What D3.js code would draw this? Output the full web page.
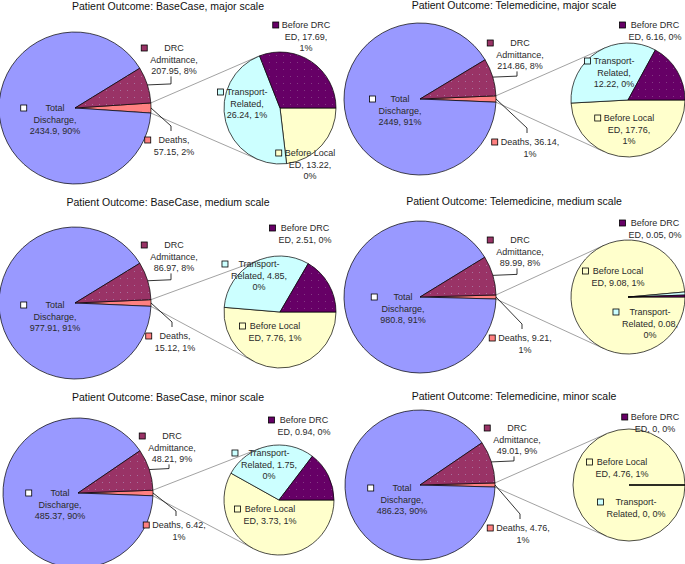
<!DOCTYPE html>
<html><head><meta charset="utf-8">
<script src="https://cdn.jsdelivr.net/npm/d3@7"></script>
<style>
html,body{margin:0;padding:0;background:#fff;}
svg{display:block;font-family:"Liberation Sans",Arial,sans-serif;}
</style></head><body>
<svg id="chart" width="685" height="564"></svg>
<script>
// ---------- DATA ----------
const chartTitles = [
  "Patient Outcome: BaseCase, major scale",
  "Patient Outcome: Telemedicine, major scale",
  "Patient Outcome: BaseCase, medium scale",
  "Patient Outcome: Telemedicine, medium scale",
  "Patient Outcome: BaseCase, minor scale",
  "Patient Outcome: Telemedicine, minor scale"
];
const mainCategories = ["Total Discharge", "DRC Admittance", "Deaths"];
const subCategories = ["Before DRC ED", "Transport-Related", "Before Local ED"];

const totalDischarge   = [2434.9, 2449, 977.91, 980.8, 485.37, 486.23];
const drcAdmittance    = [207.95, 214.86, 86.97, 89.99, 48.21, 49.01];
const deaths           = [57.15, 36.14, 15.12, 9.21, 6.42, 4.76];
const beforeDRC        = [17.69, 6.16, 2.51, 0.05, 0.94, 0];
const transportRelated = [26.24, 12.22, 4.85, 0.08, 1.75, 0];
const beforeLocal      = [13.22, 17.76, 7.76, 9.08, 3.73, 4.76];

const totalPct     = ["90%", "91%", "91%", "91%", "90%", "90%"];
const drcPct       = ["8%", "8%", "8%", "8%", "9%", "9%"];
const deathsPct    = ["2%", "1%", "1%", "1%", "1%", "1%"];
const beforeDRCPct = ["1%", "0%", "0%", "0%", "0%", "0%"];
const transportPct = ["1%", "0%", "0%", "0%", "0%", "0%"];
const beforeLocalPct = ["0%", "1%", "1%", "1%", "1%", "1%"];

// ---------- STYLE / LAYOUT ----------
const mainColors = {"Total Discharge": "#9999FF", "DRC Admittance": "#993366", "Deaths": "#FF8080"};
const subColors  = {"Before DRC ED": "#660066", "Transport-Related": "#CCFFFF", "Before Local ED": "#FFFFCC"};

const panels = [
  {cx:75, cy:108, r:76, sx:280, sy:108, sr:56, tx:168, ty:6,
   lab:{total:[55,108,[1,1,2]], drc:[174,48,[1,1,2]], deaths:[174,140,[1,2]],
        bdrc:[306,25,[2,2,1]], trans:[247,92,[1,1,2]], blocal:[310,153,[2,2,1]]}},
  {cx:420, cy:99, r:76, sx:628, sy:100, sr:57, tx:514, ty:5,
   lab:{total:[400,99,[1,1,2]], drc:[520,43,[1,1,2]], deaths:[530,142,[2,1]],
        bdrc:[655,25,[2,3]], trans:[614,61,[1,1,2]], blocal:[629,118,[2,2,1]]}},
  {cx:75, cy:303, r:76, sx:280, sy:312, sr:56, tx:168, ty:202,
   lab:{total:[55,305,[1,1,2]], drc:[174,245,[1,1,2]], deaths:[175,336,[1,2]],
        bdrc:[305,228,[2,3]], trans:[259,264,[1,2,1]], blocal:[275,326,[2,3]]}},
  {cx:420, cy:297, r:76, sx:628, sy:297, sr:57, tx:514, ty:201,
   lab:{total:[403,297,[1,1,2]], drc:[520,240,[1,1,2]], deaths:[525,338,[2,1]],
        bdrc:[655,223,[2,3]], trans:[650,312,[1,2,1]], blocal:[618,271,[2,3]]}},
  {cx:78, cy:493, r:75, sx:279, sy:500, sr:55, tx:168, ty:397,
   lab:{total:[60,493,[1,1,2]], drc:[172,436,[1,1,2]], deaths:[179,525,[2,1]],
        bdrc:[304,420,[2,3]], trans:[269,453,[1,2,1]], blocal:[270,509,[2,3]]}},
  {cx:420, cy:485, r:75, sx:629, sy:485, sr:56, tx:514, ty:396,
   lab:{total:[402,488,[1,1,2]], drc:[517,428,[1,1,2]], deaths:[523,528,[2,1]],
        bdrc:[655,417,[2,3]], trans:[636,502,[1,3]], blocal:[622,462,[2,3]]}}
];

const LABEL_SIZE = 9, LINE_H = 11.7, TITLE_SIZE = 10.5;

// ---------- DRAW ----------
const svg = d3.select("#chart");
const defs = svg.append("defs");
function dotPattern(id, base, dot) {
  const p = defs.append("pattern").attr("id", id).attr("patternUnits", "userSpaceOnUse")
    .attr("width", 7).attr("height", 7);
  p.append("rect").attr("width", 7).attr("height", 7).attr("fill", base);
  p.append("rect").attr("x", 3).attr("y", 3).attr("width", 1).attr("height", 1).attr("fill", dot);
  return `url(#${id})`;
}
const fillFor = {
  "Total Discharge": mainColors["Total Discharge"],
  "DRC Admittance": dotPattern("pDRC", mainColors["DRC Admittance"], "#a9709c"),
  "Deaths": dotPattern("pDeaths", mainColors["Deaths"], "#f07878"),
  "Before DRC ED": dotPattern("pBDRC", subColors["Before DRC ED"], "#843a84"),
  "Transport-Related": subColors["Transport-Related"],
  "Before Local ED": subColors["Before Local ED"]
};
const keyFill = {
  "Total Discharge": "#ffffff",
  "DRC Admittance": mainColors["DRC Admittance"],
  "Deaths": mainColors["Deaths"],
  "Before DRC ED": subColors["Before DRC ED"],
  "Transport-Related": subColors["Transport-Related"],
  "Before Local ED": subColors["Before Local ED"]
};

function tokensOf(text) {
  const out = [];
  text.split(" ").forEach(t => t.split(/(?<=-)/).forEach(p => out.push(p)));
  return out;
}
function drawLabel(g, name, value, pct, spec) {
  const [x, y, counts] = spec;
  const toks = tokensOf(`${name}, ${value}, ${pct}`);
  let i = 0;
  const lines = counts.map(c => {
    const seg = toks.slice(i, i + c); i += c;
    return seg.reduce((acc, t) => acc === "" ? t : (acc.endsWith("-") ? acc + t : acc + " " + t), "");
  });
  const lg = g.append("g");
  let maxW = 0;
  lines.forEach((ln, k) => {
    const t = lg.append("text").attr("x", x).attr("y", y + k * LINE_H)
      .attr("text-anchor", "middle").attr("dominant-baseline", "central")
      .attr("font-size", LABEL_SIZE).attr("fill", "#2a2a2a").text(ln);
    maxW = Math.max(maxW, t.node().getComputedTextLength());
  });
  const kx = x - maxW / 2 - 6;
  lg.append("rect").attr("x", kx - 3).attr("y", y - 3).attr("width", 6).attr("height", 6)
    .attr("fill", keyFill[name]).attr("stroke", "#000").attr("stroke-width", 0.8);
  return {x, y, last: y + (lines.length - 1) * LINE_H};
}

function tangents(px, py, cx, cy, r) {
  const d = Math.hypot(px - cx, py - cy);
  const base = Math.atan2(py - cy, px - cx);
  const th = Math.acos(r / d);
  return {
    lower: [cx + r * Math.cos(base - th), cy + r * Math.sin(base - th)],
    upper: [cx + r * Math.cos(base + th), cy + r * Math.sin(base + th)]
  };
}
const pt = (cx, cy, r, a) => [cx + r * Math.sin(a), cy - r * Math.cos(a)];

panels.forEach((P, idx) => {
  const g = svg.append("g");
  g.append("text").attr("x", P.tx).attr("y", P.ty).attr("text-anchor", "middle")
    .attr("dominant-baseline", "central").attr("font-size", TITLE_SIZE).attr("fill", "#111")
    .text(chartTitles[idx]);

  const mainVals = {"Total Discharge": totalDischarge[idx], "DRC Admittance": drcAdmittance[idx], "Deaths": deaths[idx]};
  const mainOrder = ["Deaths", "Total Discharge", "DRC Admittance"];
  const mainSum = d3.sum(mainCategories, c => mainVals[c]);
  const half = Math.PI * mainVals["Deaths"] / mainSum;
  const a0 = Math.PI / 2 - half;
  const mainPie = d3.pie().sort(null).value(d => d.v).startAngle(a0).endAngle(a0 + 2 * Math.PI);
  const mainArcs = mainPie(mainOrder.map(c => ({c, v: mainVals[c]})));
  const arcMain = d3.arc().innerRadius(0).outerRadius(P.r);

  const subVals = {"Before DRC ED": beforeDRC[idx], "Transport-Related": transportRelated[idx], "Before Local ED": beforeLocal[idx]};
  const subOrder = ["Before Local ED", "Transport-Related", "Before DRC ED"];
  const subPie = d3.pie().sort(null).value(d => d.v).startAngle(Math.PI / 2).endAngle(Math.PI / 2 + 2 * Math.PI);
  const subArcs = subPie(subOrder.map(c => ({c, v: subVals[c]})));
  const arcSub = d3.arc().innerRadius(0).outerRadius(P.sr);

  // connectors
  const dA = mainArcs[0];
  const pu = pt(P.cx, P.cy, P.r, dA.startAngle);
  const pl = pt(P.cx, P.cy, P.r, dA.endAngle);
  const tu = tangents(pu[0], pu[1], P.sx, P.sy, P.sr).upper;
  const tl = tangents(pl[0], pl[1], P.sx, P.sy, P.sr).lower;
  g.append("line").attr("x1", pu[0]).attr("y1", pu[1]).attr("x2", tu[0]).attr("y2", tu[1])
    .attr("stroke", "#8a8a8a").attr("stroke-width", 0.8);
  g.append("line").attr("x1", pl[0]).attr("y1", pl[1]).attr("x2", tl[0]).attr("y2", tl[1])
    .attr("stroke", "#8a8a8a").attr("stroke-width", 0.8);

  // main pie
  g.append("g").attr("transform", `translate(${P.cx},${P.cy})`)
    .selectAll("path").data(mainArcs).join("path")
    .attr("d", arcMain).attr("fill", d => fillFor[d.data.c])
    .attr("stroke", "#000").attr("stroke-width", 0.7).attr("stroke-linejoin", "round");

  // secondary pie
  g.append("g").attr("transform", `translate(${P.sx},${P.sy})`)
    .selectAll("path").data(subArcs).join("path")
    .attr("d", arcSub).attr("fill", d => fillFor[d.data.c])
    .attr("stroke", "#000").attr("stroke-width", 0.7).attr("stroke-linejoin", "round");

  // labels
  const L = P.lab;
  drawLabel(g, "Total Discharge", totalDischarge[idx], totalPct[idx], L.total);
  const drcL = drawLabel(g, "DRC Admittance", drcAdmittance[idx], drcPct[idx], L.drc);
  const dthL = drawLabel(g, "Deaths", deaths[idx], deathsPct[idx], L.deaths);
  drawLabel(g, "Before DRC ED", beforeDRC[idx], beforeDRCPct[idx], L.bdrc);
  drawLabel(g, "Transport-Related", transportRelated[idx], transportPct[idx], L.trans);
  drawLabel(g, "Before Local ED", beforeLocal[idx], beforeLocalPct[idx], L.blocal);

  // leader lines
  const drcArc = mainArcs[2];
  const pm = pt(P.cx, P.cy, P.r, (drcArc.startAngle + drcArc.endAngle) / 2);
  const lx = drcL.x - 3;
  g.append("polyline").attr("points", `${pm[0]},${pm[1]} ${lx},${pm[1] - 1} ${lx},${drcL.last + 5}`)
    .attr("fill", "none").attr("stroke", "#000").attr("stroke-width", 0.8);
  const pd = pt(P.cx, P.cy, P.r, (dA.startAngle + dA.endAngle) / 2);
  const dx = dthL.x - 3;
  g.append("polyline").attr("points", `${pd[0]},${pd[1]} ${dx},${dthL.y - 14} ${dx},${dthL.y - 9}`)
    .attr("fill", "none").attr("stroke", "#000").attr("stroke-width", 0.8);
});
</script>
</body></html>
